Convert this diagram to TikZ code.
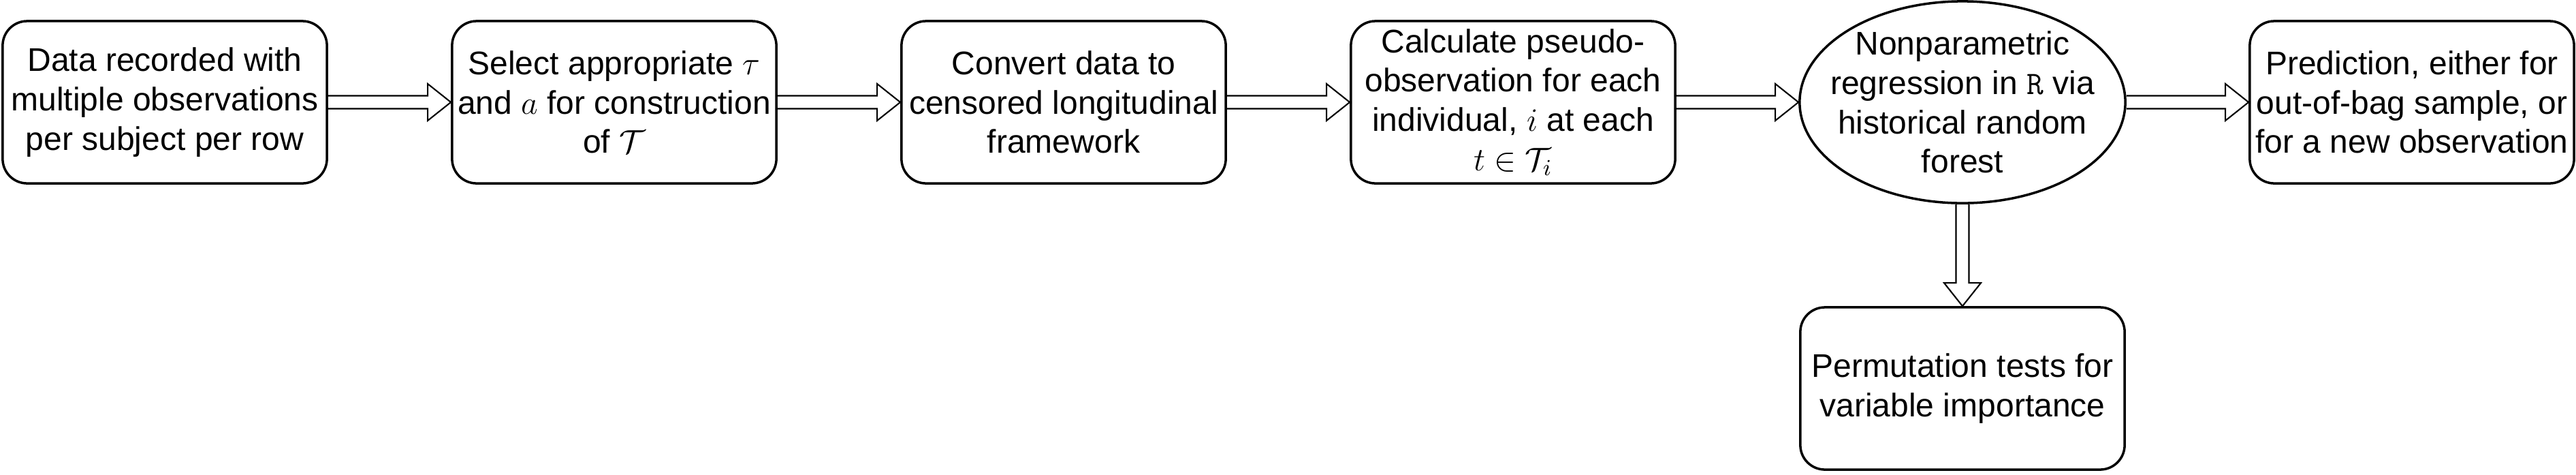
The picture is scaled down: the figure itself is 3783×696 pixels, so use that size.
\documentclass[tikz,border=0pt]{standalone}
\usepackage{fix-cm}
\usepackage{fontspec}
\setmainfont{Liberation Sans}
\usetikzlibrary{shapes.geometric, calc}
\tikzset{
  stepbox/.style = {draw, line width=1pt, rounded corners=0.36cm, minimum width=4.76cm, minimum height=2.38cm, inner sep=0pt, align=center, font=\fontsize{13.66}{16.4}\selectfont},
  rfnode/.style = {draw, line width=1pt, ellipse, minimum width=4.78cm, minimum height=2.96cm, inner sep=0pt},
  rftext/.style = {align=center, inner sep=0pt, font=\fontsize{13.66}{16.4}\selectfont},
  flowline/.style = {line width=0.6pt, line join=miter}
}
\newcommand{\hflow}[2]{%
  \draw[flowline] ($(#1.east)+(0,-9.5)$) -- ($(#2.west)+(-34,-9.5)$) -- ($(#2.west)+(-34,-27)$)
    -- (#2.west) -- ($(#2.west)+(-34,27)$) -- ($(#2.west)+(-34,9.5)$) -- ($(#1.east)+(0,9.5)$);}

\begin{document}
\begin{tikzpicture}[x=0.01cm, y=-0.01cm]
\useasboundingbox (0,0) rectangle (3783,696);
\node[stepbox] (data) at (242,150) {Data recorded with\\multiple observations\\per subject per row};
\node[stepbox] (select) at (902,150) {Select appropriate $\tau$\\and $a$ for construction\\of $\mathcal{T}$};
\node[stepbox] (convert) at (1562,150) {Convert data to\\censored longitudinal\\framework};
\node[stepbox] (pseudo) at (2222,150) {Calculate pseudo-\\observation for each\\individual, $i$ at each\\$t \in \mathcal{T}_i$};
\node[rfnode, label={[rftext]center:{Nonparametric\\regression in {\ttfamily R} via\\historical random\\forest}}] (hrf) at (2882,150) {};
\node[stepbox] (predict) at (3542,150) {Prediction, either for\\out-of-bag sample, or\\for a new observation};
\node[stepbox] (perm) at (2882,570) {Permutation tests for\\variable importance};
\hflow{data}{select}
\hflow{select}{convert}
\hflow{convert}{pseudo}
\hflow{pseudo}{hrf}
\hflow{hrf}{predict}
\draw[flowline] ($(hrf.south)+(-9.5,0)$) -- ($(perm.north)+(-9.5,-34)$) -- ($(perm.north)+(-27,-34)$)
  -- (perm.north) -- ($(perm.north)+(27,-34)$) -- ($(perm.north)+(9.5,-34)$) -- ($(hrf.south)+(9.5,0)$);
\end{tikzpicture}
\end{document}
